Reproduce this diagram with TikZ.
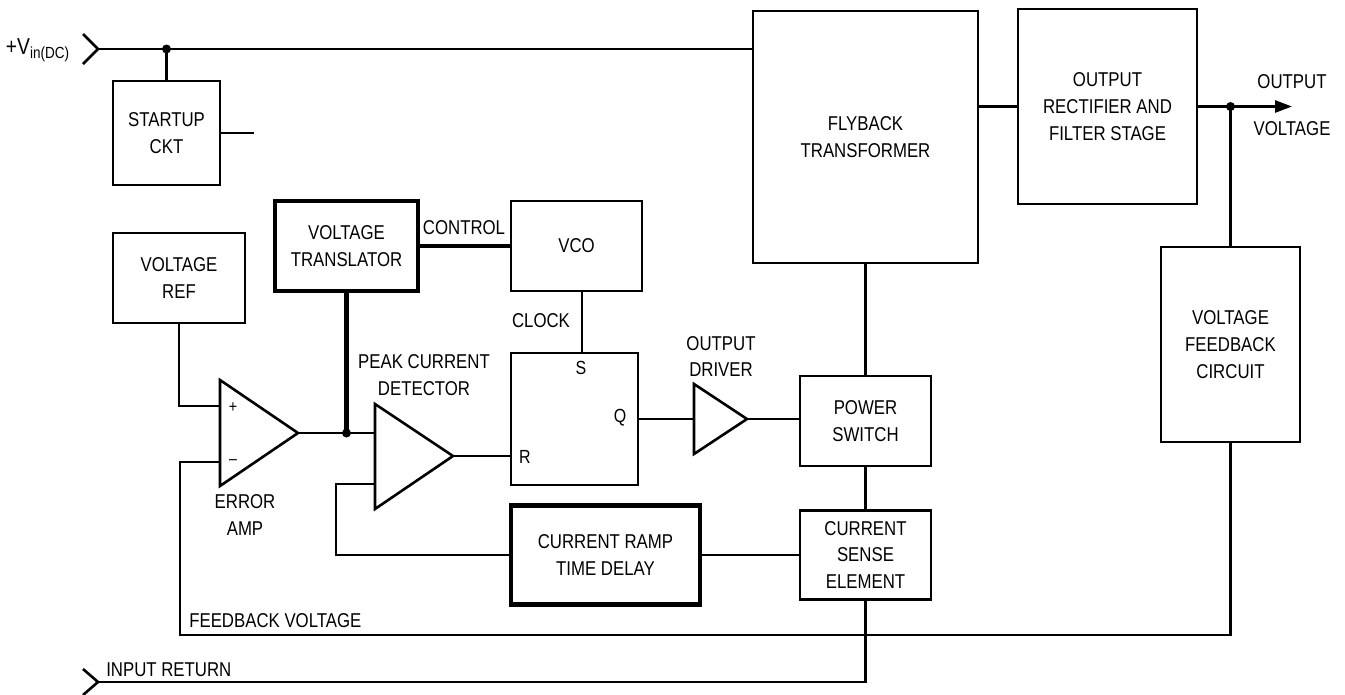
\documentclass[tikz,border=0pt]{standalone}
\usepackage{fontspec}
\setmainfont{Liberation Sans}[FakeStretch=0.84]
\usetikzlibrary{arrows.meta}

\tikzset{
  blk/.style={draw, line width=2.6pt, align=center, inner sep=0pt, font=\fontsize{20}{26.7}\selectfont},
  blkthick/.style={blk, line width=4.6pt},
  lbl/.style={align=center, inner sep=0pt, font=\fontsize{20}{26.7}\selectfont},
  pin/.style={inner sep=0pt, font=\fontsize{19}{20}\selectfont},
}

\begin{document}
\begin{tikzpicture}[x=1pt, y=-1pt, line width=2.6pt, >={Triangle[length=17pt,width=12pt]}]
  \useasboundingbox (0,0) rectangle (1345,694);

  % ==================== 方框 ====================
  \node[blk, minimum width=107pt, minimum height=104pt] (startup) at (166.5,133) {STARTUP\\CKT};
  \node[blk, minimum width=132pt, minimum height=90pt] (vref) at (179,278) {VOLTAGE\\REF};
  \node[blkthick, minimum width=143pt, minimum height=90pt] (vtrans) at (346.5,246) {VOLTAGE\\TRANSLATOR};
  \node[blk, minimum width=131pt, minimum height=90pt] (vco) at (576.5,246) {VCO};
  \node[blk, minimum width=127pt, minimum height=132pt] (ff) at (574.5,419) {};
  \node[blk, minimum width=131pt, minimum height=90pt] (ps) at (865.5,421) {POWER\\SWITCH};
  \node[blk, minimum width=131pt, minimum height=89pt] (cs) at (865.5,555) {CURRENT\\SENSE\\ELEMENT};
  \node[blkthick, minimum width=189pt, minimum height=99pt] (ramp) at (605.5,555) {CURRENT RAMP\\TIME DELAY};
  \node[blk, minimum width=225pt, minimum height=252pt] (fly) at (865.5,137) {FLYBACK\\TRANSFORMER};
  \node[blk, minimum width=179pt, minimum height=195pt] (rect) at (1107.5,106.5) {OUTPUT\\RECTIFIER AND\\FILTER STAGE};
  \node[blk, minimum width=139pt, minimum height=195pt] (vfb) at (1230.5,344.5) {VOLTAGE\\FEEDBACK\\CIRCUIT};

  % 触发器引脚
  \node[pin] (sp) at (581,368) {S};
  \node[pin] (qp) at (620,418) {Q};
  \node[pin] (rp) at (525,457) {R};

  % ==================== 放大器 ====================
  % 误差放大器
  \coordinate (eaA) at (220,380);
  \coordinate (eaB) at (220,486);
  \coordinate (eaO) at (298,433);
  \coordinate (eaP) at (220,406);
  \coordinate (eaN) at (220,462);
  \draw (eaA) -- (eaO) -- (eaB) -- cycle;
  \node[pin, font=\fontsize{17}{18}\selectfont] (plus) at (233,408) {+};
  \node[pin, font=\fontsize{17}{18}\selectfont] (minus) at (233,462) {–};

  % 峰值电流检测
  \coordinate (pdA) at (375,404);
  \coordinate (pdB) at (375,509);
  \coordinate (pdO) at (453,456);
  \coordinate (pdP) at (375,433);
  \coordinate (pdN) at (375,484);
  \draw (pdA) -- (pdO) -- (pdB) -- cycle;

  % 输出驱动
  \coordinate (drA) at (694,384);
  \coordinate (drB) at (694,454);
  \coordinate (drO) at (747,419);
  \coordinate (drI) at (694,419);
  \draw (drA) -- (drO) -- (drB) -- cycle;

  % ==================== 连线 ====================
  % 输入
  \coordinate (vin) at (98,49);
  \coordinate (vinj) at (166.5,49);
  \draw (83,34) -- (vin) -- (83,64);
  \draw (vin) -- (vin -| fly.west);
  \draw (vinj) -- (startup.north);
  \fill (vinj) circle (4.5pt);
  \coordinate (stub) at (254,133);
  \draw (startup.east) -- (stub);

  % 误差放大器周围
  \draw (vref.south) |- (eaP);
  \coordinate (fbL) at (180,635);
  \draw (eaN) -| (fbL) -| (vfb.south);
  \coordinate (tj) at (vtrans.south |- eaO);
  \draw (eaO) -- (pdP);
  \draw[line width=4.6pt] (vtrans.south) -- (tj);
  \fill (tj) circle (4.5pt);
  \draw[line width=4.6pt] (vtrans.east) -- (vco.west);

  % 时钟与触发器
  \coordinate (ffS) at (582,353);
  \draw (ffS) -- (ffS |- vco.south);
  \draw (pdO) -- (pdO -| ff.west);
  \draw (ff.east) -- (drI);
  \draw (drO) -- (drO -| ps.west);

  % 功率级
  \draw (fly.south) -- (ps.north);
  \draw (ps.south) -- (cs.north);
  \draw (cs.west) -- (ramp.east);
  \coordinate (rl) at (336,555);
  \draw (ramp.west) -- (rl) |- (pdN);

  % 输入回路
  \coordinate (ret) at (98,682);
  \draw (83,669) -- (ret) -- (83,695);
  \draw (cs.south) |- (ret);

  % 输出
  \coordinate (outT) at (1292,106.5);
  \coordinate (oj) at (vfb.north |- rect.east);
  \draw (rect.west -| fly.east) -- (rect.west);
  \draw[->] (rect.east) -- (outT);
  \draw (oj) -- (vfb.north);
  \fill (oj) circle (4.5pt);

  % ==================== 标注 ====================
  \node[lbl, anchor=east, font=\fontsize{23}{26}\selectfont] (vinlbl) at (71,50) {+V\textsubscript{in(DC)}};
  \node[lbl] (ctrl) at (464,228) {CONTROL};
  \node[lbl] (clk) at (541,321) {CLOCK};
  \node[lbl] (pdlbl) at (424,375) {PEAK CURRENT\\DETECTOR};
  \node[lbl] (drlbl) at (721,356.5) {OUTPUT\\DRIVER};
  \node[lbl] (ealbl) at (245,515) {ERROR\\AMP};
  \node[lbl, anchor=west] (fblbl) at (188,620.5) {FEEDBACK VOLTAGE};
  \node[lbl, anchor=west] (retlbl) at (105,670) {INPUT RETURN};
  \node[lbl] (out1) at (1292,82) {OUTPUT};
  \node[lbl] (out2) at (1292,129) {VOLTAGE};
\end{tikzpicture}
\end{document}
